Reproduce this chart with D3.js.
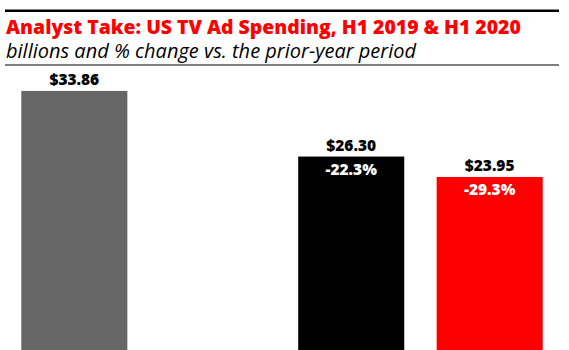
<!DOCTYPE html>
<html>
<head>
<meta charset="utf-8">
<script src="https://cdn.jsdelivr.net/npm/d3@7"></script>
<style>
  html, body { margin: 0; padding: 0; background: #fff; }
  svg { display: block; font-family: "Open Sans", sans-serif; }
</style>
</head>
<body>
<svg id="chart"></svg>
<script>
// slots on the x axis; the second one is left empty in the original
const slots = ["H1 2019", "gap", "H1 2020 A", "H1 2020 B"];
const categories = ["H1 2019", "H1 2020 A", "H1 2020 B"];
const values = [33.86, 26.30, 23.95];
const changes = [null, -22.3, -29.3];
const colors = ["#666666", "#000000", "#ff0000"];

const width = 569, height = 350;

const svg = d3.select("#chart")
    .attr("width", width)
    .attr("height", height);

// header
svg.append("rect")
    .attr("x", 5).attr("y", 9.5)
    .attr("width", 554).attr("height", 2.5)
    .attr("fill", "#000");

svg.append("text")
    .attr("x", 6)
    .attr("y", 34)
    .attr("fill", "#ff0000")
    .attr("font-weight", 800)
    .attr("font-size", "19.4px")
    .text("Analyst Take: US TV Ad Spending, H1 2019 & H1 2020");

svg.append("text")
    .attr("x", 6)
    .attr("y", 58.3)
    .attr("fill", "#000")
    .attr("font-style", "italic")
    .attr("font-size", "20px")
    .text("billions and % change vs. the prior-year period");

svg.append("rect")
    .attr("x", 5).attr("y", 64.5)
    .attr("width", 554).attr("height", 1)
    .attr("fill", "#000");

// scales
const x = d3.scaleBand()
    .domain(slots)
    .range([21.3, 542.7])
    .paddingInner(0.234)
    .paddingOuter(0);

const y = d3.scaleLinear()
    .domain([0, 35])
    .range([385, 81]);

const data = categories.map((c, i) => ({
    cat: c, value: values[i], change: changes[i], color: colors[i]
}));

svg.selectAll("rect.bar")
    .data(data)
    .join("rect")
    .attr("class", "bar")
    .attr("x", d => x(d.cat))
    .attr("y", d => y(d.value))
    .attr("width", x.bandwidth())
    .attr("height", d => y(0) - y(d.value))
    .attr("fill", d => d.color);

svg.selectAll("text.val")
    .data(data)
    .join("text")
    .attr("class", "val")
    .attr("x", d => x(d.cat) + x.bandwidth() / 2)
    .attr("y", d => y(d.value) - 5.5)
    .attr("text-anchor", "middle")
    .attr("font-weight", 800)
    .attr("font-size", "15.5px")
    .attr("fill", "#000")
    .text(d => "$" + d.value.toFixed(2));

svg.selectAll("text.chg")
    .data(data.filter(d => d.change !== null))
    .join("text")
    .attr("class", "chg")
    .attr("x", d => x(d.cat) + x.bandwidth() / 2)
    .attr("y", d => y(d.value) + 18.5)
    .attr("text-anchor", "middle")
    .attr("font-weight", 800)
    .attr("font-size", "15.5px")
    .attr("fill", "#fff")
    .text(d => d.change.toFixed(1) + "%");
</script>
</body>
</html>
